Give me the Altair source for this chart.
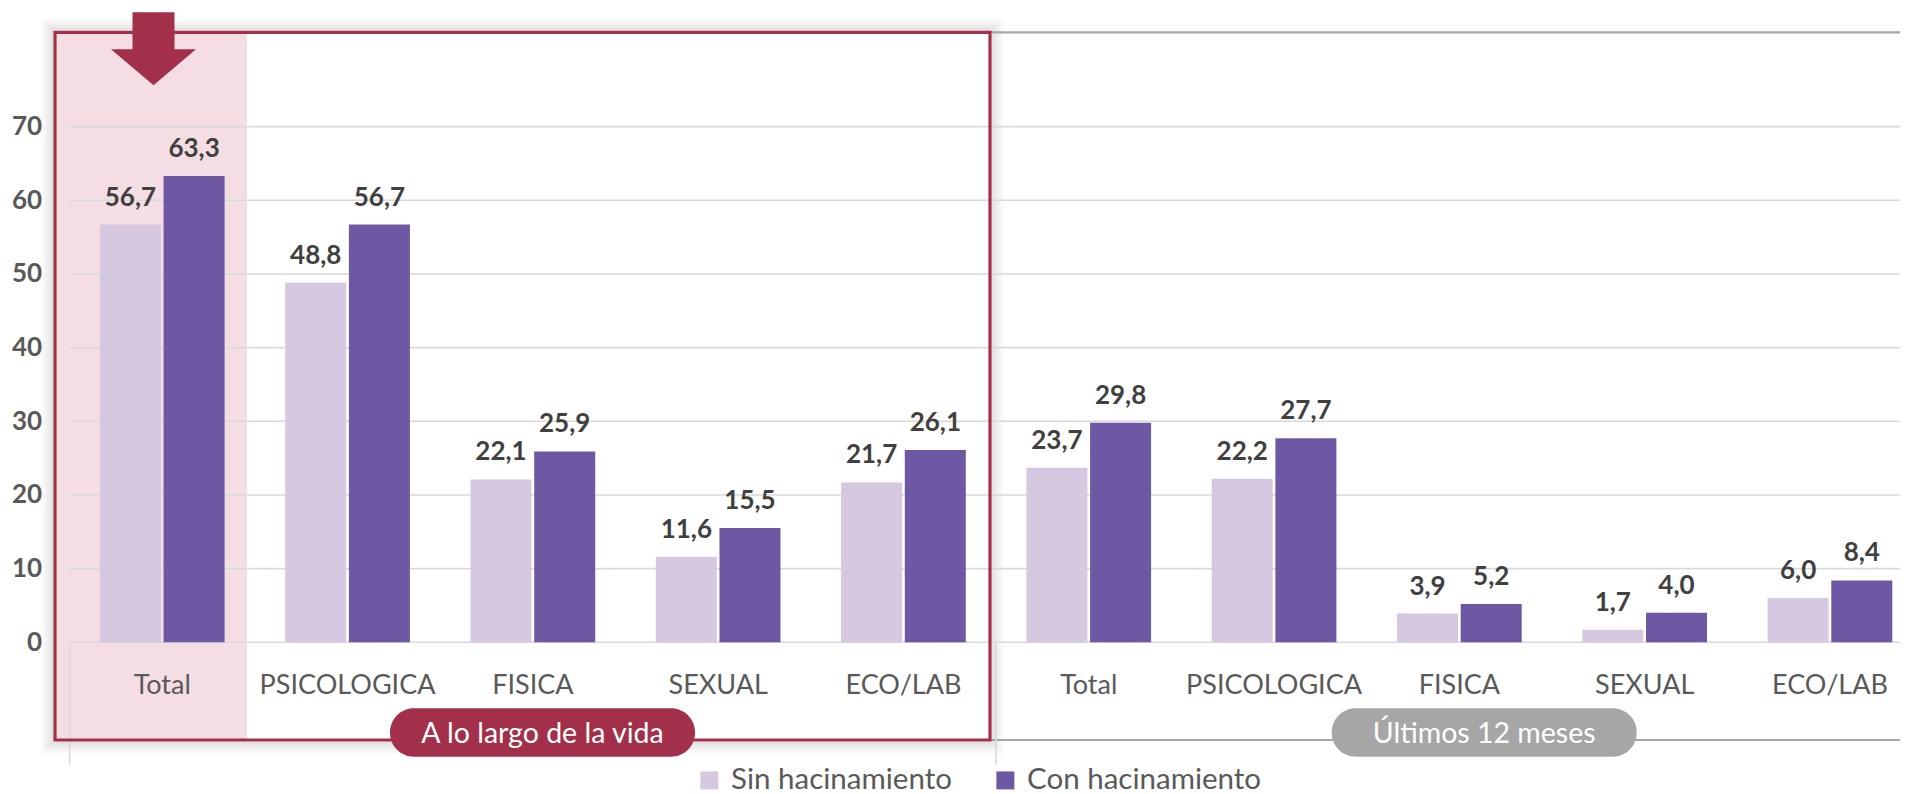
import altair as alt
import pandas as pd

# ---------------- data ----------------
periodos = ["A lo largo de la vida", "Últimos 12 meses"]
tipos = ["Total", "PSICOLOGICA", "FISICA", "SEXUAL", "ECO/LAB"]
series = ["Sin hacinamiento", "Con hacinamiento"]
sin_hacinamiento = [56.7, 48.8, 22.1, 11.6, 21.7, 23.7, 22.2, 3.9, 1.7, 6.0]
con_hacinamiento = [63.3, 56.7, 25.9, 15.5, 26.1, 29.8, 27.7, 5.2, 4.0, 8.4]
y_ticks = [0, 10, 20, 30, 40, 50, 60, 70]

# ---------------- styles ----------------
FONT = "Lato"
LIGHT = "#d6c8e0"
DARK = "#6e57a3"
CRIMSON = "#a3304a"
PINK = "#f4dee4"
GRID = "#d9d9d9"
LINE = "#a6a6a6"
LABEL = "#595959"
VALUE = "#404040"

W, H = 1830.4, 610
XRANGE = [0, 1853]

keys = [f"{p}|{t}" for p in periodos for t in tipos]
rows = []
for i, k in enumerate(keys):
    rows.append({"key": k, "serie": series[0], "valor": sin_hacinamiento[i]})
    rows.append({"key": k, "serie": series[1], "valor": con_hacinamiento[i]})
df = pd.DataFrame(rows)
one = pd.DataFrame({"k": [0]})
ticks_df = pd.DataFrame({"valor": y_ticks})

yscale = alt.Scale(domain=[0, 82.8], nice=False, zero=True)
xscale = alt.Scale(domain=keys, range=XRANGE, paddingInner=0.327, paddingOuter=0.1635)
xoff = alt.XOffset("serie:N", sort=series,
                   scale=alt.Scale(domain=series, paddingInner=0.042, paddingOuter=0))

x_axis = alt.Axis(title=None, labelExpr="split(datum.label, '|')[1]", labelAngle=0,
                  labelFont=FONT, labelFontSize=27, labelColor=LABEL, labelLimit=400,
                  labelBaseline="alphabetic", labelPadding=51, ticks=False, tickSize=0,
                  domain=False, grid=False, zindex=1, labelOverlap=False,
                  labelBound=False, labelFlush=False)
y_axis = alt.Axis(values=y_ticks, title=None, grid=False, domain=False, ticks=False,
                  tickSize=0, labelPadding=28, labelFont=FONT, labelFontSize=26,
                  labelFontWeight="bold", labelColor=LABEL, zindex=1)

x_enc = alt.X("key:N", sort=keys, scale=xscale, axis=x_axis)
y_enc = alt.Y("valor:Q", scale=yscale, axis=y_axis)

# frame geometry (plot coords)
FX1, FX2, FY1, FY2 = -14.6, 920.4, 0, 707.7

layers = []

# soft shadow around the frame
for d, op in [(3, 0.11), (6, 0.08), (9, 0.05), (12, 0.025)]:
    layers.append(alt.Chart(one).mark_rect(fill="transparent", stroke="black", strokeWidth=3,
                                           strokeOpacity=op).encode(
        x=alt.value(FX1 - d), x2=alt.value(FX2 + d), y=alt.value(FY1 - d), y2=alt.value(FY2 + d)))

# pink highlight of the Total column
layers.append(alt.Chart(one).mark_rect(fill=PINK).encode(
    x=alt.value(FX1), x2=alt.value(177.4), y=alt.value(FY1), y2=alt.value(FY2)))

# gridlines (carry the y axis)
layers.append(alt.Chart(ticks_df).mark_rule(color=GRID, strokeWidth=1.6).encode(
    y=y_enc, x=alt.value(0), x2=alt.value(W)))

# top and bottom frame lines of the chart
layers.append(alt.Chart(one).mark_rule(color=LINE, strokeWidth=2.2).encode(
    x=alt.value(0), x2=alt.value(W), y=alt.value(0)))
layers.append(alt.Chart(one).mark_rule(color=LINE, strokeWidth=2).encode(
    x=alt.value(0), x2=alt.value(W), y=alt.value(FY2)))
# category group dividers
for xv in [0, 926.4]:
    layers.append(alt.Chart(one).mark_rule(color=GRID, strokeWidth=1.6).encode(
        x=alt.value(xv), y=alt.value(H), y2=alt.value(732.7)))

# bars
bars = alt.Chart(df).mark_bar().encode(
    x=x_enc, xOffset=xoff, y=y_enc,
    color=alt.Color("serie:N", sort=series, scale=alt.Scale(domain=series, range=[LIGHT, DARK]),
                    legend=alt.Legend(title=None, orient="none", legendX=625, legendY=733,
                                      direction="horizontal", symbolType="square", symbolSize=324,
                                      symbolStrokeWidth=0, symbolOpacity=1, labelFont=FONT,
                                      labelFontSize=29.5, labelColor=LABEL, labelOffset=7,
                                      columnPadding=38, padding=0, labelLimit=400)))
layers.append(bars)

# value labels
texts = alt.Chart(df).transform_calculate(
    etiqueta="replace(format(datum.valor, '.1f'), '.', ',')"
).mark_text(font=FONT, fontSize=26, fontWeight="bold", color=VALUE, baseline="alphabetic",
            align="center", dy=-19).encode(
    x=x_enc, xOffset=xoff, y=y_enc, text="etiqueta:N")
layers.append(texts)

# red frame
layers.append(alt.Chart(one).mark_rect(fill="transparent", stroke=CRIMSON, strokeWidth=3.2).encode(
    x=alt.value(FX1), x2=alt.value(FX2), y=alt.value(FY1), y2=alt.value(FY2)))

# period pills
pills = [(320.4, 625.4, CRIMSON, periodos[0]), (1262.1, 1567.1, "#a6a6a6", periodos[1])]
for x1, x2, col, txt in pills:
    layers.append(alt.Chart(one).mark_rect(fill=col, cornerRadius=24).encode(
        x=alt.value(x1), x2=alt.value(x2), y=alt.value(676), y2=alt.value(724.4)))
    layers.append(alt.Chart(one).mark_text(font=FONT, fontSize=28.5, color="white",
                                           baseline="alphabetic", align="center").encode(
        x=alt.value((x1 + x2) / 2), y=alt.value(711), text=alt.value(txt)))

# arrow pointing to Total
ARROW = "M-0.494,-0.859 L0.494,-0.859 L0.494,0.014 L1,0.014 L0,0.859 L-1,0.014 L-0.494,0.014 Z"
layers.append(alt.Chart(one).mark_point(shape=ARROW, size=7225, filled=True, fill=CRIMSON,
                                        opacity=1, strokeWidth=0).encode(
    x=alt.value(83.9), y=alt.value(16.4)))

chart = alt.layer(*layers).properties(
    width=W, height=H,
    autosize=alt.AutoSizeParams(type="none"),
    padding={"left": 61.6, "top": 24.3, "right": 0, "bottom": 151.7},
).configure_view(stroke=None)

chart.save("out.html", embed_options={"renderer": "svg", "actions": False})
